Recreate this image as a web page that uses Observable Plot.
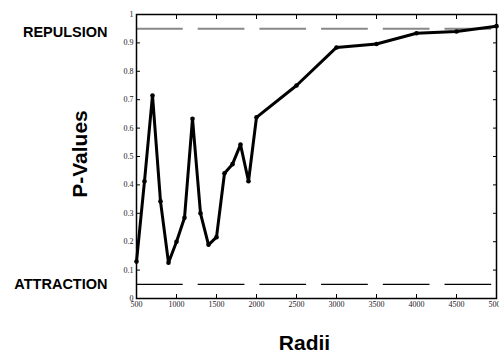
<!DOCTYPE html>
<html><head><meta charset="utf-8">
<script src="https://cdn.jsdelivr.net/npm/d3@7"></script>
<script src="https://cdn.jsdelivr.net/npm/@observablehq/plot@0.6"></script>
<style>body{margin:0;background:#fff}</style>
</head><body><div id="chart"></div>
<script>
const radii = [500,600,700,800,900,1000,1100,1200,1300,1400,1500,1600,1700,1800,1900,2000,2500,3000,3500,4000,4500,5000];
const pValues = [0.13,0.413,0.715,0.342,0.126,0.20,0.284,0.633,0.30,0.189,0.216,0.441,0.473,0.542,0.413,0.638,0.75,0.884,0.896,0.934,0.940,0.959];
const xTicks = [500,1000,1500,2000,2500,3000,3500,4000,4500,5000];
const yTicks = [0,0.1,0.2,0.3,0.4,0.5,0.6,0.7,0.8,0.9,1];
const yTickLabels = ["0","0.1","0.2","0.3","0.4","0.5","0.6","0.7","0.8","0.9","1"];
const repulsionLevel = [0.95];
const attractionLevel = [0.05];
const xTitle = "Radii";
const yTitle = "P-Values";

const data = radii.map((r, i) => ({r, p: pValues[i]}));
const sans = "Liberation Sans, Arial, sans-serif";

const plot = Plot.plot({
  width: 499, height: 354,
  marginLeft: 136, marginRight: 3, marginTop: 14, marginBottom: 56,
  style: {fontFamily: "Liberation Serif, Times New Roman, serif", fontSize: "8px", color: "#000", background: "#fff"},
  x: {domain: [500, 5000]},
  y: {domain: [0, 1]},
  marks: [
    Plot.ruleY(repulsionLevel, {stroke: "#888", strokeWidth: 2, strokeDasharray: "46.7,15"}),
    Plot.ruleY(attractionLevel, {stroke: "#000", strokeWidth: 1.2, strokeDasharray: "46.7,15"}),
    Plot.line(data, {x: "r", y: "p", stroke: "#000", strokeWidth: 3, strokeLinejoin: "round"}),
    Plot.dot(data, {x: "r", y: "p", r: 2.3, fill: "#000"}),
    Plot.frame({stroke: "#000", strokeWidth: 1.5}),
    Plot.axisY({anchor: "left", ticks: yTicks, tickSize: -4, tickPadding: 7, label: null,
      tickFormat: d => yTickLabels[yTicks.indexOf(d)], fill: "#222"}),
    Plot.axisY({anchor: "right", ticks: yTicks, tickSize: -4, label: null, tickFormat: () => ""}),
    Plot.axisX({anchor: "bottom", ticks: xTicks, tickSize: -4, tickPadding: 7, label: null,
      tickFormat: d => String(d), fill: "#222"}),
    Plot.axisX({anchor: "top", ticks: xTicks, tickSize: -4, label: null, tickFormat: () => ""}),
    Plot.text([{y: repulsionLevel[0], t: "REPULSION"}], {y: "y", text: "t", frameAnchor: "left", dx: -29, dy: 3.5,
      textAnchor: "end", lineAnchor: "middle", fontFamily: sans, fontWeight: "bold", fontSize: 14.5, fill: "#000"}),
    Plot.text([{y: attractionLevel[0], t: "ATTRACTION"}], {y: "y", text: "t", frameAnchor: "left", dx: -29, dy: 0.5,
      textAnchor: "end", lineAnchor: "middle", fontFamily: sans, fontWeight: "bold", fontSize: 14.5, fill: "#000"}),
    Plot.text([yTitle], {frameAnchor: "left", dx: -56, dy: -2.5, rotate: -90, textAnchor: "middle", lineAnchor: "middle",
      fontFamily: sans, fontWeight: "bold", fontSize: 21, fill: "#000"}),
    Plot.text([xTitle], {frameAnchor: "bottom", dx: -12, dy: 44.5, textAnchor: "middle", lineAnchor: "middle",
      fontFamily: sans, fontWeight: "bold", fontSize: 21, fill: "#000"})
  ]
});
document.getElementById("chart").appendChild(plot);
</script>
</body></html>
